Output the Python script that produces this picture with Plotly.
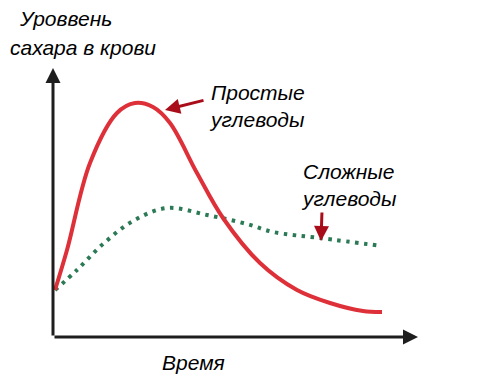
import plotly.graph_objects as go

# Simple carbohydrates (red) — time vs blood sugar level (arbitrary units)
time_simple = [2, 14, 37, 64, 82, 100, 117, 144, 170, 207, 244, 277, 310, 329]
level_simple = [47, 87, 174, 224, 234, 230, 214, 164, 119, 74, 47, 34, 26, 25]

# Complex carbohydrates (green dotted)
time_complex = [2, 24, 50, 80, 114, 154, 194, 220, 267, 329]
level_complex = [47, 67, 93, 116, 129, 122, 113, 105, 99, 91]

labels = {
    "y_title": ["Уроввень", "сахара в крови"],
    "x_title": "Время",
    "simple": "Простые<br>углеводы",
    "complex": "Сложные<br>углеводы",
}

X_MAX, Y_MAX = 365, 269
RED = "#de3039"
GREEN = "#2b7a55"
DARKRED = "#a90d1a"
AXIS = "#1e1e1e"
FONT = dict(family="Liberation Sans, Arial, sans-serif", size=21, color="#000")

fig = go.Figure()
fig.add_trace(go.Scatter(x=time_complex, y=level_complex, mode="lines",
                         line=dict(color=GREEN, width=4, dash="3.5px,5.5px", shape="spline", smoothing=1.0),
                         hoverinfo="skip"))
fig.add_trace(go.Scatter(x=time_simple, y=level_simple, mode="lines",
                         line=dict(color=RED, width=4, shape="spline", smoothing=1.0),
                         hoverinfo="skip"))

ann = []
# axes as arrows
ann.append(dict(x=X_MAX, y=0, ax=0, ay=0, xref="x", yref="y", axref="x", ayref="y",
                showarrow=True, arrowhead=2, arrowsize=1, arrowwidth=3, arrowcolor=AXIS, text=""))
ann.append(dict(x=0, y=Y_MAX, ax=0, ay=0, xref="x", yref="y", axref="x", ayref="y",
                showarrow=True, arrowhead=2, arrowsize=1, arrowwidth=3, arrowcolor=AXIS, text=""))
# pointer arrows
ann.append(dict(x=112, y=227, ax=152, ay=237, xref="x", yref="y", axref="x", ayref="y",
                showarrow=True, arrowhead=2, arrowsize=1, arrowwidth=3, arrowcolor=DARKRED, text=""))
ann.append(dict(x=268, y=96, ax=269, ay=126, xref="x", yref="y", axref="x", ayref="y",
                showarrow=True, arrowhead=2, arrowsize=1, arrowwidth=3, arrowcolor=DARKRED, text=""))
# texts
ann.append(dict(x=154, y=231, xref="x", yref="y", text="<i>" + labels["simple"] + "</i>",
                showarrow=False, xanchor="left", yanchor="middle", align="left", font=FONT))
ann.append(dict(x=246, y=152, xref="x", yref="y", text="<i>" + labels["complex"] + "</i>",
                showarrow=False, xanchor="left", yanchor="middle", align="left", font=FONT))
ann.append(dict(x=140, y=-25, xref="x", yref="y", text="<i>" + labels["x_title"] + "</i>",
                showarrow=False, xanchor="center", yanchor="middle", font=FONT))
ann.append(dict(x=-36, y=319, xref="x", yref="y", text="<i>" + labels["y_title"][0] + "</i>",
                showarrow=False, xanchor="left", yanchor="middle", font=FONT))
ann.append(dict(x=-45, y=290, xref="x", yref="y", text="<i>" + labels["y_title"][1] + "</i>",
                showarrow=False, xanchor="left", yanchor="middle", font=FONT))

fig.update_layout(
    width=497, height=379,
    margin=dict(l=0, r=0, t=0, b=0),
    paper_bgcolor="white", plot_bgcolor="white",
    showlegend=False,
    xaxis=dict(range=[-53, 444], visible=False),
    yaxis=dict(range=[-42, 337], visible=False),
    annotations=ann,
)
fig.write_html("out.html")
